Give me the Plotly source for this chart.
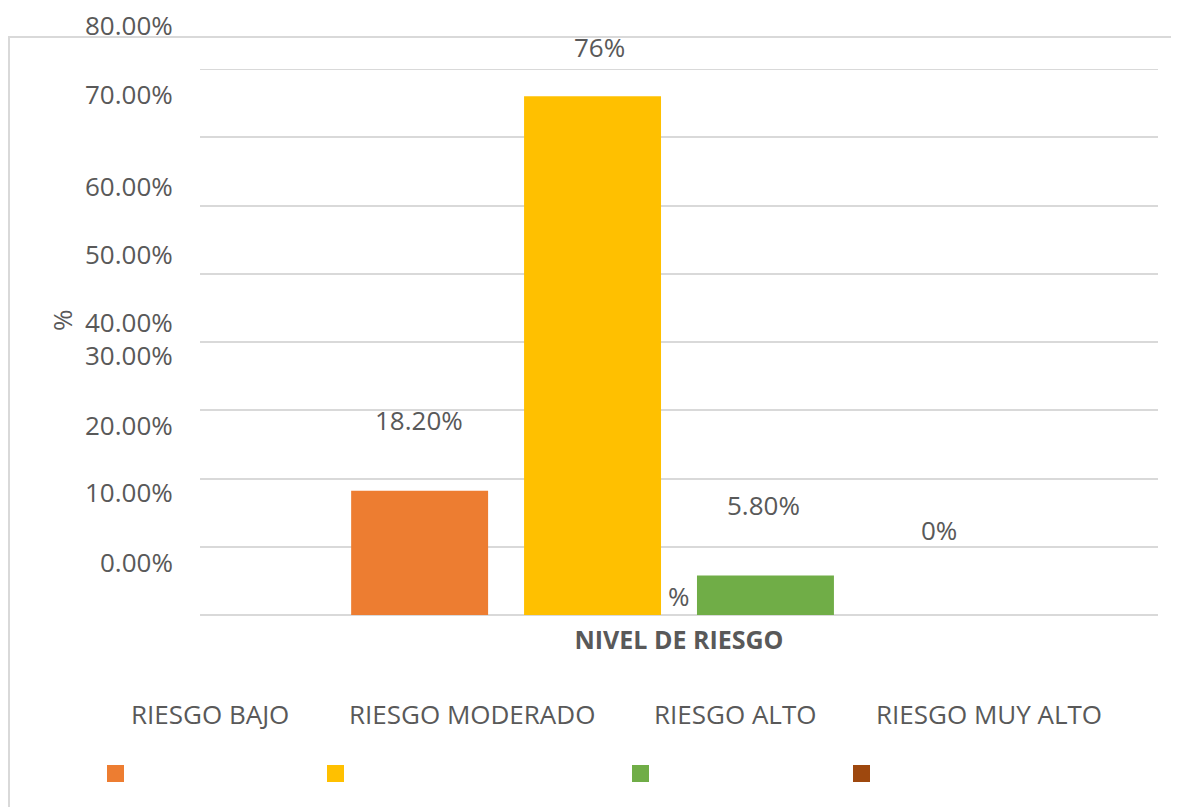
import plotly.graph_objects as go

# ---------------- data ----------------
categories = ["RIESGO BAJO", "RIESGO MODERADO", "RIESGO ALTO", "RIESGO MUY ALTO"]
values = [18.2, 76.0, 5.8, 0.0]
colors = ["#ED7D31", "#FFC000", "#70AD47", "#9E480E"]
data_labels = ["18.20%", "76%", "5.80%", "0%"]
group_label = "NIVEL DE RIESGO"
tick_values = [0, 10, 20, 30, 40, 50, 60, 70, 80]
tick_labels = ["0.00%", "10.00%", "20.00%", "30.00%", "40.00%",
               "50.00%", "60.00%", "70.00%", "80.00%"]
axis_title = "%"

# ---------------- layout constants (pixels, page coords) ----------------
OFF = 8                       # default body margin of the html page
W, H = 1179 - OFF, 807 - OFF
L, T = 200 - OFF, 69 - OFF
R = W - (1158 - OFF)
B = H - (615 - OFF)
PW, PH = W - L - R, H - T - B
BARGAP = 0.278
GROUPGAP = 0.208
TXT = "#595959"
GRID = "#D9D9D9"
FONT = "Open Sans"
FS = 26


def pxx(p):
    return (p - OFF - L) / PW


def pxy(p):
    return (H - B - (p - OFF)) / PH


fig = go.Figure()
for cat, v, c in zip(categories, values, colors):
    fig.add_trace(go.Bar(x=[group_label], y=[v], name=cat, marker_color=c,
                         marker_line_width=0, showlegend=False))

annotations = []
# data labels (irregular placement, as in the reference)
label_yshift = [71, 49, 70, 85]
label_xshift = [-1, 7, -2, 1]
n = len(values)
slot = (1 - BARGAP) / n
for i, (v, t) in enumerate(zip(values, data_labels)):
    cx = -(1 - BARGAP) / 2 + slot * (i + 0.5)
    annotations.append(dict(x=cx, y=v, xref="x", yref="y", text=t, showarrow=False,
                            xanchor="center", yanchor="middle",
                            xshift=label_xshift[i], yshift=label_yshift[i],
                            font=dict(family=FONT, size=FS, color=TXT)))
# stray '%' fragment next to the green bar
cx_green = -(1 - BARGAP) / 2 + slot * 2.5
annotations.append(dict(x=cx_green, y=values[2], xref="x", yref="y", text="%",
                        showarrow=False, xanchor="center", yanchor="middle",
                        xshift=-86, yshift=-21,
                        font=dict(family=FONT, size=FS, color=TXT)))

# y tick labels (offset from gridlines as in the reference)
tick_yshift = [53, 55, 54, 55, 20, 20, 20, 43, 44]
for tv, tl, ys in zip(tick_values, tick_labels, tick_yshift):
    annotations.append(dict(x=pxx(175), y=tv, xref="paper", yref="y", text=tl,
                            showarrow=False, xanchor="right", yanchor="middle",
                            yshift=ys, font=dict(family=FONT, size=FS, color=TXT)))

# y axis title
annotations.append(dict(x=pxx(62), y=pxy(320), xref="paper", yref="paper",
                        text=axis_title, textangle=-90, showarrow=False,
                        xanchor="center", yanchor="middle",
                        font=dict(family=FONT, size=FS, color=TXT)))

# legend texts
legend_text_x = [210, 472, 735, 989]
for cat, lx in zip(categories, legend_text_x):
    annotations.append(dict(x=pxx(lx), y=pxy(714), xref="paper", yref="paper",
                            text=cat, showarrow=False, xanchor="center",
                            yanchor="middle",
                            font=dict(family=FONT, size=FS, color=TXT)))

shapes = []
# top gridline (at the axis maximum)
shapes.append(dict(type="line", xref="paper", yref="y", layer="below",
                   x0=0, x1=1, y0=max(tick_values), y1=max(tick_values),
                   line=dict(color=GRID, width=2)))
# legend swatches
legend_sw_x = [107, 327, 632, 853]
for c, sx in zip(colors, legend_sw_x):
    shapes.append(dict(type="rect", xref="paper", yref="paper",
                       x0=pxx(sx), x1=pxx(sx + 17), y0=pxy(782), y1=pxy(765),
                       fillcolor=c, line_width=0))
# chart border
shapes.append(dict(type="rect", xref="paper", yref="paper", layer="below",
                   x0=pxx(9), x1=pxx(1200), y0=pxy(840), y1=pxy(37),
                   fillcolor="rgba(0,0,0,0)", line=dict(color=GRID, width=2)))

fig.update_layout(
    width=W, height=H,
    margin=dict(l=L, r=R, t=T, b=B, autoexpand=False),
    paper_bgcolor="white", plot_bgcolor="white",
    barmode="group", bargap=BARGAP, bargroupgap=GROUPGAP,
    showlegend=False,
    annotations=annotations, shapes=shapes,
    font=dict(family=FONT, color=TXT),
)
fig.update_xaxes(showgrid=False, showline=False, ticks="",
                 tickfont=dict(family=FONT, size=25, color=TXT, weight="bold"),
                 ticklabelstandoff=8)
fig.update_yaxes(range=[0, 80], tickvals=tick_values, showticklabels=False,
                 showgrid=True, gridcolor=GRID, gridwidth=2,
                 zeroline=True, zerolinecolor=GRID, zerolinewidth=2,
                 showline=False, ticks="")

fig.write_html("out.html")
